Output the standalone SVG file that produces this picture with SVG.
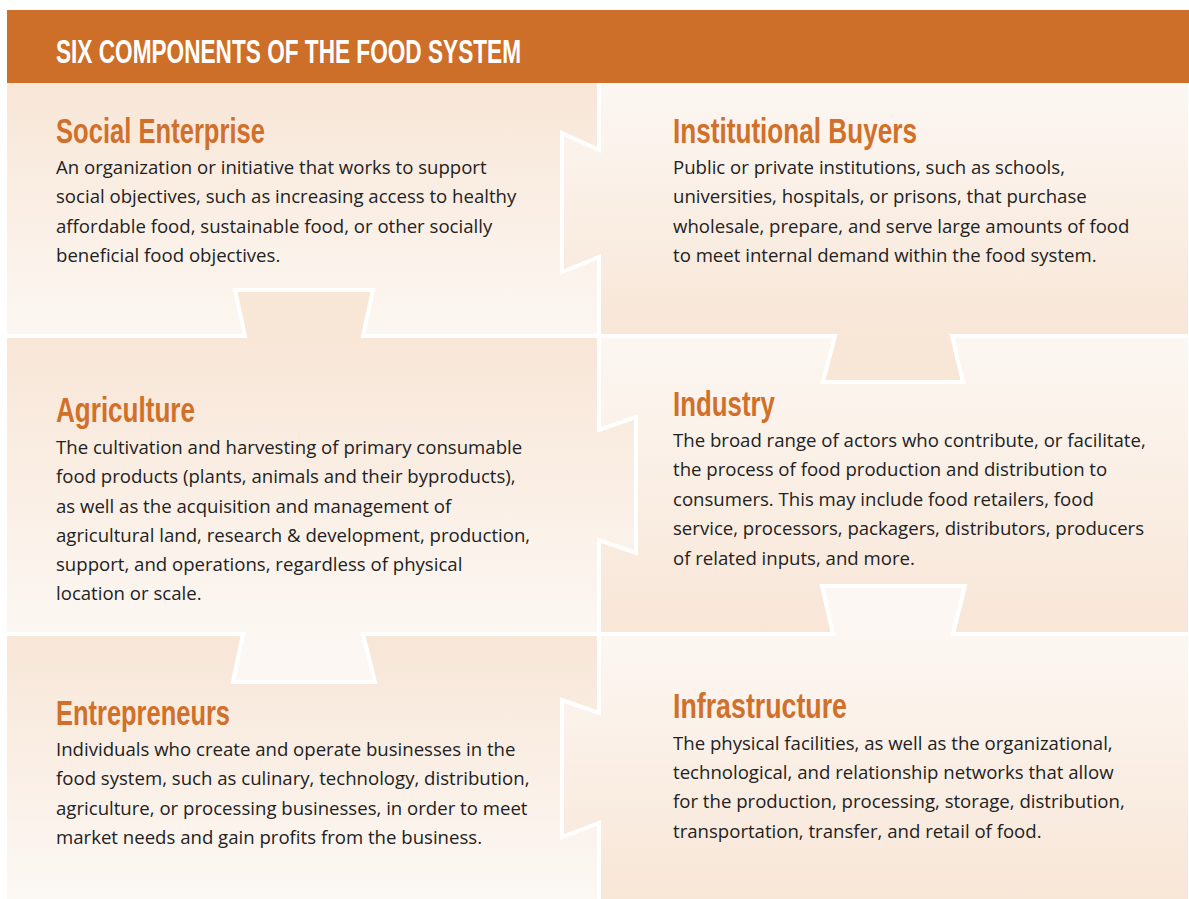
<svg xmlns="http://www.w3.org/2000/svg" width="1189" height="899" viewBox="0 0 1189 899">
<style>
.title{font-family:"Liberation Sans",Arial,sans-serif;font-size:33px;font-weight:bold;fill:#ffffff;}
.head{font-family:"Liberation Sans",Arial,sans-serif;font-size:35px;font-weight:bold;fill:#D0702A;}
.body{font-family:"Open Sans","Liberation Sans",sans-serif;font-size:18.6px;fill:#222222;}
.div{fill:none;stroke:#ffffff;stroke-width:4;stroke-linejoin:miter;}
</style>
<defs>
<linearGradient id="gSoc" gradientUnits="userSpaceOnUse" x1="0" y1="83" x2="0" y2="336"><stop offset="0" stop-color="#F8E6D7"/><stop offset="1" stop-color="#FCF7F2"/></linearGradient>
<linearGradient id="gIns" gradientUnits="userSpaceOnUse" x1="0" y1="83" x2="0" y2="336"><stop offset="0" stop-color="#FCF7F2"/><stop offset="1" stop-color="#F8E6D7"/></linearGradient>
<linearGradient id="gAgr" gradientUnits="userSpaceOnUse" x1="0" y1="336" x2="0" y2="634"><stop offset="0" stop-color="#F8E6D7"/><stop offset="1" stop-color="#FCF7F2"/></linearGradient>
<linearGradient id="gInd" gradientUnits="userSpaceOnUse" x1="0" y1="336" x2="0" y2="634"><stop offset="0" stop-color="#FCF7F2"/><stop offset="1" stop-color="#F8E6D7"/></linearGradient>
<linearGradient id="gEnt" gradientUnits="userSpaceOnUse" x1="0" y1="634" x2="0" y2="899"><stop offset="0" stop-color="#F8E6D7"/><stop offset="1" stop-color="#FCF8F4"/></linearGradient>
<linearGradient id="gInf" gradientUnits="userSpaceOnUse" x1="0" y1="634" x2="0" y2="899"><stop offset="0" stop-color="#FCF7F2"/><stop offset="1" stop-color="#F8E6D7"/></linearGradient>
</defs>
<rect x="0" y="0" width="1189" height="899" fill="#ffffff"/>

<g id="social-enterprise">
<path d="M7,83 H599 V150 L562,133 V272 L599,257 V336 H363 L373,290 H235 L245,336 H7 Z" fill="url(#gSoc)"/>
<text class="head" x="56" y="143" textLength="209" lengthAdjust="spacingAndGlyphs">Social Enterprise</text>
<text class="body"><tspan x="56" y="174">An organization or initiative that works to support</tspan><tspan x="56" y="203">social objectives, such as increasing access to healthy</tspan><tspan x="56" y="233">affordable food, sustainable food, or other socially</tspan><tspan x="56" y="262">beneficial food objectives.</tspan></text>
</g>

<g id="institutional-buyers">
<path d="M599,83 H1188 V336 H952 L963,382 H823 L835,336 H599 V257 L562,272 V133 L599,150 Z" fill="url(#gIns)"/>
<text class="head" x="673" y="143" textLength="244" lengthAdjust="spacingAndGlyphs">Institutional Buyers</text>
<text class="body"><tspan x="673" y="174">Public or private institutions, such as schools,</tspan><tspan x="673" y="203">universities, hospitals, or prisons, that purchase</tspan><tspan x="673" y="233">wholesale, prepare, and serve large amounts of food</tspan><tspan x="673" y="262">to meet internal demand within the food system.</tspan></text>
</g>

<g id="agriculture">
<path d="M7,336 H245 L235,290 H373 L363,336 H599 V430 L636,417 V553 L599,540 V634 H363 L375,682 H233 L243,634 H7 Z" fill="url(#gAgr)"/>
<text class="head" x="56" y="422" textLength="139" lengthAdjust="spacingAndGlyphs">Agriculture</text>
<text class="body"><tspan x="56" y="454">The cultivation and harvesting of primary consumable</tspan><tspan x="56" y="483">food products (plants, animals and their byproducts),</tspan><tspan x="56" y="513">as well as the acquisition and management of</tspan><tspan x="56" y="542">agricultural land, research &amp; development, production,</tspan><tspan x="56" y="571">support, and operations, regardless of physical</tspan><tspan x="56" y="600">location or scale.</tspan></text>
</g>

<g id="industry">
<path d="M599,336 H835 L823,382 H963 L952,336 H1188 V634 H953 L965,586 H822 L833,634 H599 V540 L636,553 V417 L599,430 Z" fill="url(#gInd)"/>
<text class="head" x="673" y="416" textLength="102" lengthAdjust="spacingAndGlyphs">Industry</text>
<text class="body"><tspan x="673" y="447">The broad range of actors who contribute, or facilitate,</tspan><tspan x="673" y="476">the process of food production and distribution to</tspan><tspan x="673" y="506">consumers. This may include food retailers, food</tspan><tspan x="673" y="535">service, processors, packagers, distributors, producers</tspan><tspan x="673" y="565">of related inputs, and more.</tspan></text>
</g>

<g id="entrepreneurs">
<path d="M7,634 H243 L233,682 H375 L363,634 H599 V713 L562,700 V837 L599,823 V899 H7 Z" fill="url(#gEnt)"/>
<text class="head" x="56" y="725" textLength="174" lengthAdjust="spacingAndGlyphs">Entrepreneurs</text>
<text class="body"><tspan x="56" y="756">Individuals who create and operate businesses in the</tspan><tspan x="56" y="785">food system, such as culinary, technology, distribution,</tspan><tspan x="56" y="815">agriculture, or processing businesses, in order to meet</tspan><tspan x="56" y="844">market needs and gain profits from the business.</tspan></text>
</g>

<g id="infrastructure">
<path d="M599,634 H833 L822,586 H965 L953,634 H1188 V899 H599 V823 L562,837 V700 L599,713 Z" fill="url(#gInf)"/>
<text class="head" x="673" y="718" textLength="174" lengthAdjust="spacingAndGlyphs">Infrastructure</text>
<text class="body"><tspan x="673" y="750">The physical facilities, as well as the organizational,</tspan><tspan x="673" y="779">technological, and relationship networks that allow</tspan><tspan x="673" y="808">for the production, processing, storage, distribution,</tspan><tspan x="673" y="838">transportation, transfer, and retail of food.</tspan></text>
</g>

<g id="connectors">
<path class="div" d="M599,83 V150 L562,133 V272 L599,257 V336"/>
<path class="div" d="M7,336 H245 L235,290 H373 L363,336 H599"/>
<path class="div" d="M599,336 H835 L823,382 H963 L952,336 H1188"/>
<path class="div" d="M599,336 V430 L636,417 V553 L599,540 V634"/>
<path class="div" d="M7,634 H243 L233,682 H375 L363,634 H599"/>
<path class="div" d="M599,634 H833 L822,586 H965 L953,634 H1188"/>
<path class="div" d="M599,634 V713 L562,700 V837 L599,823 V899"/>
</g>

<g id="header">
<rect x="7" y="10" width="1182" height="73" fill="#CD6F28"/>
<text class="title" x="56" y="63" textLength="465" lengthAdjust="spacingAndGlyphs">SIX COMPONENTS OF THE FOOD SYSTEM</text>
</g>
</svg>
